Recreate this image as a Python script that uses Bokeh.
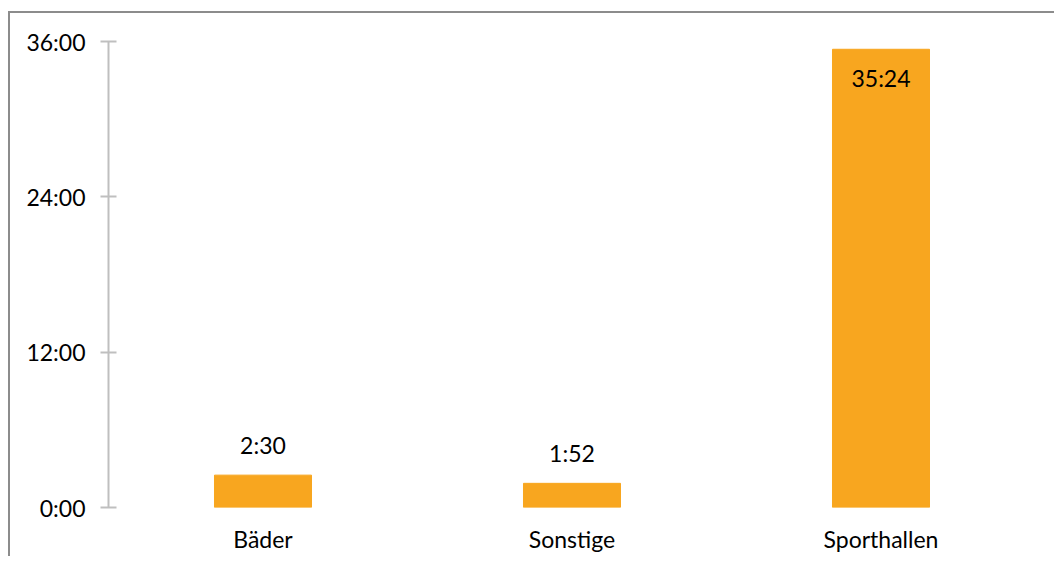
from bokeh.plotting import figure
from bokeh.models import FixedTicker, ColumnDataSource, FactorRange, Range1d
from bokeh.embed import file_html
from bokeh.resources import INLINE
from bokeh.core.properties import value

categories = ["Bäder", "Sonstige", "Sporthallen"]
hours = [2.5, 1 + 52 / 60, 35.4]
labels = ["2:30", "1:52", "35:24"]
y_ticks = [0, 12, 24, 36]
y_tick_labels = ["0:00", "12:00", "24:00", "36:00"]

FONT = "Lato"
BAR = "#F8A61F"
FS = "23px"

p = figure(x_range=FactorRange(*categories, range_padding=0), y_range=Range1d(0, 36),
           width=1046, height=545, output_backend="svg", toolbar_location=None,
           min_border_left=98, min_border_right=21, min_border_top=28, min_border_bottom=51)
p.styles = {"border-top": "2px solid #8c8c8c", "border-left": "2px solid #8c8c8c",
            "margin-top": "11px", "margin-left": "8px"}

src = ColumnDataSource(dict(cat=categories, h=hours, lab=labels))
p.vbar(x="cat", top="h", width=0.314, color=BAR, source=src)

inside = dict(cat=[], h=[], lab=[])
outside = dict(cat=[], h=[], lab=[])
for c, h, l in zip(categories, hours, labels):
    d = inside if h > 30 else outside
    d["cat"].append(c); d["h"].append(h); d["lab"].append(l)

p.text(x="cat", y="h", text="lab", source=ColumnDataSource(outside), text_align="center",
       text_baseline="bottom", y_offset=-16, text_font=value(FONT), text_font_size=FS,
       text_color="black")
p.text(x="cat", y="h", text="lab", source=ColumnDataSource(inside), text_align="center",
       text_baseline="top", y_offset=15, text_font=value(FONT), text_font_size=FS,
       text_color="black")

p.xgrid.grid_line_color = None
p.ygrid.grid_line_color = None
p.outline_line_color = None

ya = p.yaxis[0]
ya.ticker = FixedTicker(ticks=y_ticks)
ya.major_label_overrides = {t: s for t, s in zip(y_ticks, y_tick_labels)}
ya.axis_line_color = "#bfbfbf"
ya.axis_line_width = 2
ya.major_tick_line_color = "#bfbfbf"
ya.major_tick_line_width = 2
ya.major_tick_in = 8
ya.major_tick_out = 8
ya.minor_tick_line_color = None
ya.major_label_standoff = 15
ya.major_label_text_font = FONT
ya.major_label_text_font_size = FS
ya.major_label_text_color = "black"

xa = p.xaxis[0]
xa.axis_line_color = None
xa.major_tick_line_color = None
xa.minor_tick_line_color = None
xa.major_label_standoff = 11
xa.major_label_text_font = FONT
xa.major_label_text_font_size = FS
xa.major_label_text_color = "black"

open("out.html", "w").write(file_html(p, INLINE))
